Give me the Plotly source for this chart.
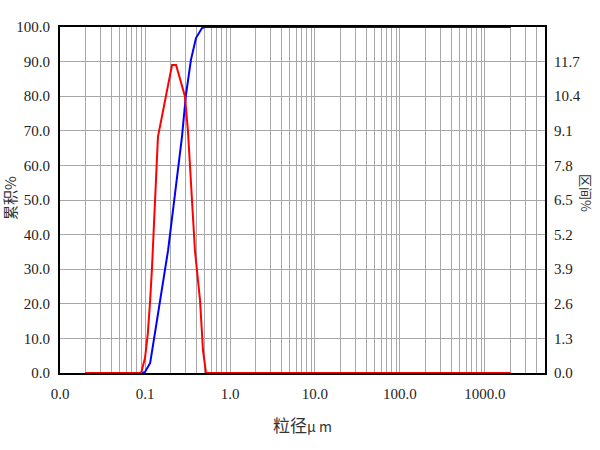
import plotly.graph_objects as go

# Cumulative distribution (blue, left axis, %)
cum_x = [0.02, 0.09, 0.1, 0.115, 0.131, 0.150, 0.172, 0.187, 0.272, 0.303, 0.347, 0.398, 0.468, 0.508, 2000]
cum_y = [0.0, 0.0, 0.3, 2.9, 11.6, 21.1, 30.6, 35.5, 68.2, 80.3, 90.5, 96.8, 99.7, 100.0, 100.0]

# Interval distribution (red, right axis, %)
int_x = [0.02, 0.09, 0.1, 0.108, 0.115, 0.121, 0.142, 0.208, 0.232, 0.295, 0.32, 0.387, 0.444, 0.481, 0.522, 2000]
int_y = [0.0, 0.0, 0.56, 1.5, 2.74, 3.98, 8.87, 11.57, 11.57, 10.4, 9.1, 4.6, 2.74, 0.86, 0.0, 0.0]

decades = [0.01, 0.1, 1, 10, 100, 1000]
decade_labels = ["0.0", "0.1", "1.0", "10.0", "100.0", "1000.0"]
left_ticks = [0, 10, 20, 30, 40, 50, 60, 70, 80, 90, 100]
right_ticks = [0.0, 1.3, 2.6, 3.9, 5.2, 6.5, 7.8, 9.1, 10.4, 11.7]

x_tickvals, x_ticktext = [], []
for d, lab in zip(decades, decade_labels):
    for m in range(1, 10):
        v = d * m
        if v > 5000:
            break
        x_tickvals.append(v)
        x_ticktext.append(lab if m == 1 else "")

NUMFONT = dict(family="Liberation Serif", size=15, color="#222222")
CJK = "Noto Sans CJK SC"

fig = go.Figure()
fig.add_trace(go.Scatter(x=int_x, y=int_y, mode="lines", yaxis="y2",
                         line=dict(color="#ff0000", width=2), showlegend=False))
fig.add_trace(go.Scatter(x=cum_x, y=cum_y, mode="lines", yaxis="y",
                         line=dict(color="#0000ff", width=2), showlegend=False))

fig.update_layout(
    width=600, height=450,
    margin=dict(l=60, r=55, t=27, b=77, autoexpand=False),
    paper_bgcolor="white", plot_bgcolor="white",
    xaxis=dict(type="log", range=[-2, 3.706], tickmode="array",
               tickvals=x_tickvals, ticktext=x_ticktext, automargin=False,
               showgrid=True, gridcolor="#a8a8a8", gridwidth=1,
               showline=True, linecolor="black", linewidth=2, mirror=True,
               ticks="outside", ticklen=6, tickcolor="rgba(0,0,0,0)",
               tickfont=NUMFONT, zeroline=False),
    yaxis=dict(range=[0, 100], tickmode="array", tickvals=left_ticks,
               ticktext=[f"{v:.1f}" for v in left_ticks], automargin=False,
               showgrid=True, gridcolor="#a8a8a8", gridwidth=1,
               showline=True, linecolor="black", linewidth=2, mirror=True,
               ticks="outside", ticklen=5, tickcolor="rgba(0,0,0,0)",
               tickfont=NUMFONT, zeroline=False),
    yaxis2=dict(range=[0, 13], overlaying="y", side="right", tickmode="array",
                tickvals=right_ticks, ticktext=[f"{v:.1f}" for v in right_ticks],
                showgrid=False, showline=False, zeroline=False, automargin=False,
                ticks="outside", ticklen=5, tickcolor="rgba(0,0,0,0)",
                tickfont=NUMFONT),
    annotations=[
        dict(text="累积%", xref="paper", yref="paper", x=(10 - 60) / 485, y=(373 - 198) / 346,
             textangle=-90, showarrow=False, xanchor="center", yanchor="middle",
             font=dict(family=CJK, size=15, color="#333333")),
        dict(text="区间%", xref="paper", yref="paper", x=(587 - 60) / 485, y=(373 - 193) / 346,
             textangle=90, showarrow=False, xanchor="center", yanchor="middle",
             font=dict(family=CJK, size=13, color="#333333")),
        dict(text="粒径<span style='font-size:14px'>μ m</span>", xref="paper", yref="paper",
             x=(302 - 60) / 485, y=(373 - 424) / 346, showarrow=False,
             xanchor="center", yanchor="middle",
             font=dict(family=CJK, size=17, color="#333333")),
    ],
)

fig.write_html("out.html", config={"displayModeBar": False},
               post_script="document.body.style.margin='0';")
